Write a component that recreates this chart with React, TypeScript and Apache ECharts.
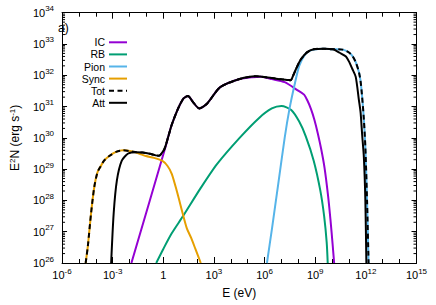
import React, { useEffect, useRef } from "react";
import * as echarts from "echarts";

// Exponents (log10)
const xTickExponents = [-6, -3, 0, 3, 6, 9, 12, 15];
const yTickExponents = [26, 27, 28, 29, 30, 31, 32, 33, 34];

// log10(E / eV) and log10(E^2 N / erg s^-1)
const icLogE = [-1.89, 0.12, 0.3, 0.5, 0.88, 1.2, 1.46, 1.75, 2.13, 2.6, 3.37, 4.52, 5.28, 5.8, 6.43, 7.19, 7.96, 8.34, 8.53, 8.75, 8.95, 9.15, 9.35, 9.55, 9.75, 9.9, 10.03, 10.12];
const icLogY = [26.0, 29.69, 30.05, 30.42, 30.94, 31.26, 31.34, 31.15, 30.94, 31.1, 31.62, 31.88, 31.94, 31.95, 31.88, 31.78, 31.52, 31.38, 31.2, 30.92, 30.58, 30.15, 29.65, 29.05, 28.2, 27.4, 26.6, 26.0];

const rbLogE = [-0.42, 0.0, 0.5, 1.17, 2.22, 3.18, 4.52, 5.66, 6.43, 7.0, 7.58, 8.05, 8.44, 8.91, 9.3, 9.53, 9.68, 9.74];
const rbLogY = [26.0, 26.45, 26.95, 27.5, 28.4, 29.16, 30.0, 30.63, 30.94, 31.02, 30.89, 30.52, 30.05, 29.27, 28.32, 27.49, 26.65, 26.0];

const pionLogE = [6.14, 6.43, 6.81, 7.19, 7.48, 7.77, 8.05, 8.34, 8.6, 8.91, 9.5, 10.06, 10.25, 10.63, 11.02, 11.2, 11.4, 11.59, 11.69, 11.78, 11.88, 11.97, 12.07, 12.16];
const pionLogY = [26.0, 27.07, 28.53, 30.0, 30.94, 31.68, 32.3, 32.62, 32.76, 32.82, 32.85, 32.83, 32.83, 32.82, 32.72, 32.62, 32.42, 32.1, 31.8, 31.3, 30.6, 29.7, 28.0, 26.0];

const syncLogE = [-4.6, -4.47, -4.28, -4.09, -3.9, -3.7, -3.51, -3.2, -2.8, -2.37, -1.9, -1.45, -1.03, -0.55, -0.07, 0.25, 0.5, 0.8, 1.17, 1.4, 1.65, 1.9, 2.22];
const syncLogY = [26.0, 26.54, 27.59, 28.43, 28.9, 29.1, 29.27, 29.42, 29.55, 29.6, 29.57, 29.5, 29.42, 29.36, 29.27, 29.1, 28.85, 28.3, 27.54, 27.1, 26.8, 26.45, 26.0];

const totLogE = [-4.6, -4.47, -4.28, -4.09, -3.9, -3.7, -3.51, -3.2, -2.8, -2.37, -1.9, -1.6, -1.22, -0.8, -0.45, -0.25, 0.0, 0.12, 0.3, 0.5, 0.88, 1.2, 1.46, 1.75, 2.13, 2.6, 3.37, 4.52, 5.47, 6.43, 7.0, 7.38, 7.54, 7.7, 7.86, 8.15, 8.53, 8.91, 9.5, 10.06, 10.25, 10.63, 11.02, 11.2, 11.4, 11.59, 11.69, 11.78, 11.88, 11.97, 12.07, 12.16];
const totLogY = [26.0, 26.54, 27.59, 28.43, 28.9, 29.1, 29.27, 29.42, 29.55, 29.6, 29.57, 29.54, 29.53, 29.49, 29.44, 29.43, 29.58, 29.72, 30.05, 30.42, 30.94, 31.26, 31.34, 31.15, 30.94, 31.1, 31.62, 31.88, 31.97, 31.91, 31.87, 31.85, 31.84, 32.0, 32.2, 32.51, 32.74, 32.83, 32.85, 32.83, 32.83, 32.82, 32.72, 32.62, 32.42, 32.1, 31.8, 31.3, 30.6, 29.7, 28.0, 26.0];

const attLogE = [-3.09, -2.94, -2.75, -2.46, -2.08, -1.6, -1.22, -0.8, -0.45, -0.25, 0.0, 0.12, 0.3, 0.5, 0.88, 1.2, 1.46, 1.75, 2.13, 2.6, 3.37, 4.52, 5.47, 6.43, 7.0, 7.38, 7.54, 7.7, 7.86, 8.15, 8.53, 8.91, 9.5, 10.06, 10.44, 10.82, 11.02, 11.2, 11.4, 11.59, 11.69, 11.78, 11.88, 11.97, 12.03];
const attLogY = [26.0, 27.59, 28.64, 29.27, 29.5, 29.54, 29.53, 29.49, 29.44, 29.43, 29.58, 29.72, 30.05, 30.42, 30.94, 31.26, 31.34, 31.15, 30.94, 31.1, 31.62, 31.88, 31.97, 31.91, 31.87, 31.85, 31.84, 32.0, 32.2, 32.51, 32.74, 32.83, 32.85, 32.83, 32.72, 32.6, 32.42, 32.2, 31.95, 31.2, 30.8, 30.1, 29.4, 28.0, 26.0];

const seriesNames = ["IC", "RB", "Pion", "Sync", "Tot", "Att"];
const seriesColors = ["#9400D3", "#009E73", "#56B4E9", "#E69F00", "#000000", "#000000"];
const seriesX = [icLogE, rbLogE, pionLogE, syncLogE, totLogE, attLogE];
const seriesY = [icLogY, rbLogY, pionLogY, syncLogY, totLogY, attLogY];

const FONT = "'Liberation Sans', Arial, Helvetica, sans-serif";
const DASH = [5, 3.5];

const labelRich = {
  b: { fontSize: 11, lineHeight: 16, fontFamily: FONT, color: "#000" },
  s: { fontSize: 8, lineHeight: 8, verticalAlign: "top", fontFamily: FONT, color: "#000" },
};

function expLabel(v: number) {
  if (Math.abs(v) < 1e-9) return "{b|1}";
  return `{b|10}{s|${Math.round(v)}}`;
}

export default function App() {
  const ref = useRef<HTMLDivElement>(null);

  useEffect(() => {
    if (!ref.current) return;
    const chart = echarts.init(ref.current, undefined, { renderer: "svg" });

    // log-spaced minor tick positions for the y axis (2..9 within each decade)
    const yMinor: number[] = [];
    for (let d = yTickExponents[0]; d < yTickExponents[yTickExponents.length - 1]; d++) {
      for (let k = 2; k <= 9; k++) yMinor.push(d + Math.log10(k));
    }

    const axisLineStyle = { color: "#000", width: 1 };

    const lineSeries = seriesNames.map((name, i) => ({
      name,
      type: "line",
      xAxisIndex: 0,
      yAxisIndex: 0,
      data: seriesX[i].map((x, j) => [x, seriesY[i][j]]),
      showSymbol: false,
      symbol: "none",
      smooth: 0.25,
      clip: true,
      lineStyle: {
        color: seriesColors[i],
        width: 2,
        type: name === "Tot" ? DASH : "solid",
      },
      itemStyle: { color: seriesColors[i] },
      z: 2 + i,
    }));

    const legendGraphics: any[] = [];
    seriesNames.forEach((name, i) => {
      const y = 42.3 + 12.1 * i;
      legendGraphics.push({
        type: "text",
        x: 105,
        y,
        style: {
          text: name,
          fill: "#000",
          fontSize: 10.5,
          lineHeight: 11,
          fontFamily: FONT,
          align: "right",
          verticalAlign: "middle",
        },
      });
      legendGraphics.push({
        type: "line",
        shape: { x1: 109, y1: y, x2: 127, y2: y },
        style: {
          stroke: seriesColors[i],
          lineWidth: 2,
          lineDash: name === "Tot" ? DASH : null,
        },
      });
    });

    const option: any = {
      animation: false,
      backgroundColor: "#fff",
      grid: { left: 50, top: 12.7, right: 19.5, bottom: 37.5, containLabel: false },
      xAxis: [
        {
          type: "value",
          position: "bottom",
          min: -6,
          max: 15,
          interval: 3,
          name: "E (eV)",
          nameLocation: "middle",
          nameGap: 23,
          nameTextStyle: { fontSize: 12, fontFamily: FONT, color: "#000", lineHeight: 14 },
          axisLine: { show: true, onZero: false, lineStyle: axisLineStyle },
          axisTick: { show: true, inside: true, length: 6, lineStyle: axisLineStyle },
          minorTick: { show: true, splitNumber: 3, length: 4, lineStyle: axisLineStyle },
          splitLine: { show: false },
          minorSplitLine: { show: false },
          axisLabel: {
            show: true,
            margin: 4,
            formatter: expLabel,
            rich: labelRich,
            hideOverlap: false,
            showMinLabel: true,
            showMaxLabel: true,
          },
        },
        {
          type: "value",
          position: "top",
          min: -6,
          max: 15,
          interval: 3,
          axisLine: { show: true, onZero: false, lineStyle: axisLineStyle },
          axisTick: { show: true, inside: true, length: 6, lineStyle: axisLineStyle },
          minorTick: { show: true, splitNumber: 3, length: 4, lineStyle: axisLineStyle },
          splitLine: { show: false },
          axisLabel: { show: false },
        },
      ],
      yAxis: [
        {
          type: "value",
          position: "left",
          min: 26,
          max: 34,
          interval: 1,
          name: "E{s|2}N (erg s{s|-1})",
          nameLocation: "middle",
          nameRotate: 90,
          nameGap: 35,
          nameTextStyle: {
            fontSize: 12,
            fontFamily: FONT,
            color: "#000",
            lineHeight: 14,
            rich: { s: { fontSize: 8, lineHeight: 8, verticalAlign: "top", fontFamily: FONT, color: "#000" } },
          },
          axisLine: { show: true, onZero: false, lineStyle: axisLineStyle },
          axisTick: { show: true, inside: true, length: 5, lineStyle: axisLineStyle },
          splitLine: { show: false },
          axisLabel: {
            show: true,
            margin: 8,
            formatter: expLabel,
            rich: labelRich,
            hideOverlap: false,
            showMinLabel: true,
            showMaxLabel: true,
          },
        },
        {
          type: "value",
          position: "right",
          min: 26,
          max: 34,
          interval: 1,
          axisLine: { show: true, onZero: false, lineStyle: axisLineStyle },
          axisTick: { show: true, inside: true, length: 5, lineStyle: axisLineStyle },
          splitLine: { show: false },
          axisLabel: { show: false },
        },
      ],
      series: [
        ...lineSeries,
        {
          type: "custom",
          xAxisIndex: 0,
          yAxisIndex: 0,
          silent: true,
          z: 20,
          data: yMinor.map((v) => [xTickExponents[0], v]),
          renderItem: (params: any, api: any) => {
            const cs = params.coordSys;
            const p = api.coord([api.value(0), api.value(1)]);
            const st = { stroke: "#000", lineWidth: 1 };
            return {
              type: "group",
              children: [
                { type: "line", shape: { x1: cs.x, y1: p[1], x2: cs.x + 3, y2: p[1] }, style: st },
                { type: "line", shape: { x1: cs.x + cs.width - 3, y1: p[1], x2: cs.x + cs.width, y2: p[1] }, style: st },
              ],
            };
          },
        },
      ],
      graphic: [
        {
          type: "text",
          x: 58,
          y: 28,
          style: {
            text: "a)",
            fill: "#000",
            fontSize: 12,
            fontFamily: FONT,
            align: "left",
            verticalAlign: "middle",
          },
        },
        ...legendGraphics,
      ],
    };

    chart.setOption(option);
    return () => chart.dispose();
  }, []);

  return (
    <div
      ref={ref}
      style={{ position: "fixed", left: 0, top: 0, width: 436, height: 305, background: "#fff" }}
    />
  );
}
